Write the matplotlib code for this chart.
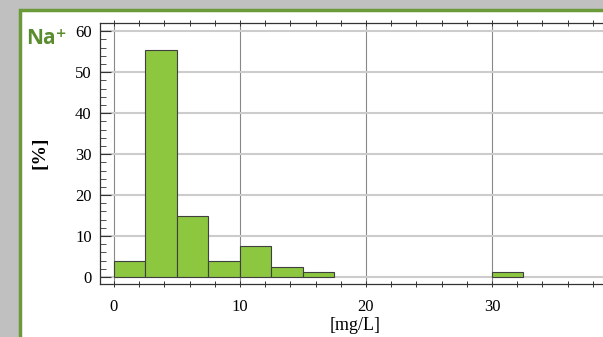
import numpy as np
import matplotlib.pyplot as plt
from matplotlib.patches import Rectangle
from matplotlib.ticker import MultipleLocator

# histogram of Na+ concentration, bins 2.5 mg/L wide
bin_left = [0, 2.5, 5, 7.5, 10, 12.5, 15, 30]
percent = [3.8, 55.5, 15.0, 3.8, 7.6, 2.5, 1.2, 1.2]
bin_width = 2.5

fig = plt.figure(figsize=(6.03, 3.37), dpi=100)
fig.patch.set_facecolor('#c0c0c0')
# white panel with green border
fig.patches.append(Rectangle((20/603, -0.1), 1.0, 1 - 10/337 + 0.1, transform=fig.transFigure,
                             facecolor='white', edgecolor='#6a9a3a', linewidth=2.5, zorder=-10))

ax = fig.add_axes([100/603, 53/337, 510/603, 261/337])
ax.bar(bin_left, percent, width=bin_width, align='edge', color='#8dc63f',
       edgecolor='#404040', linewidth=0.8, zorder=3)

ax.set_xlim(-1.11, 39.37)
ax.set_ylim(-1.7, 62)
ax.xaxis.set_major_locator(MultipleLocator(10))
ax.xaxis.set_minor_locator(MultipleLocator(2))
ax.yaxis.set_major_locator(MultipleLocator(10))
ax.yaxis.set_minor_locator(MultipleLocator(2))
ax.tick_params(which='both', labelsize=12, color='#333333', right=False)
ax.tick_params(axis='y', which='major', direction='in', length=8, width=0.8, pad=6)
ax.tick_params(axis='y', which='minor', direction='in', length=4, width=0.6)
ax.tick_params(axis='x', which='both', direction='inout', top=True, length=4, width=0.7, pad=9)
for lab in ax.get_xticklabels() + ax.get_yticklabels():
    lab.set_family('Liberation Serif')

ax.grid(axis='y', color='#cccccc', linewidth=1.5, zorder=0)
ax.grid(axis='x', color='#888888', linewidth=0.8, zorder=0)
for s in ax.spines.values():
    s.set_color('#333333')
    s.set_linewidth(0.9)

ax.set_xlabel('[mg/L]', family='Liberation Serif', fontsize=13, labelpad=1)
fig.text(40/603, 1 - 153/337, '[%]', rotation=90, family='Liberation Serif', fontsize=14,
         ha='center', va='center', fontweight='bold')
fig.text(26/603, 1 - 38/337, 'Na\u207a', family=['Open Sans', 'DejaVu Sans'], fontsize=15,
         fontweight='bold', color='#5b8c2e', ha='left', va='center')

fig.savefig('out.png', dpi=100)
